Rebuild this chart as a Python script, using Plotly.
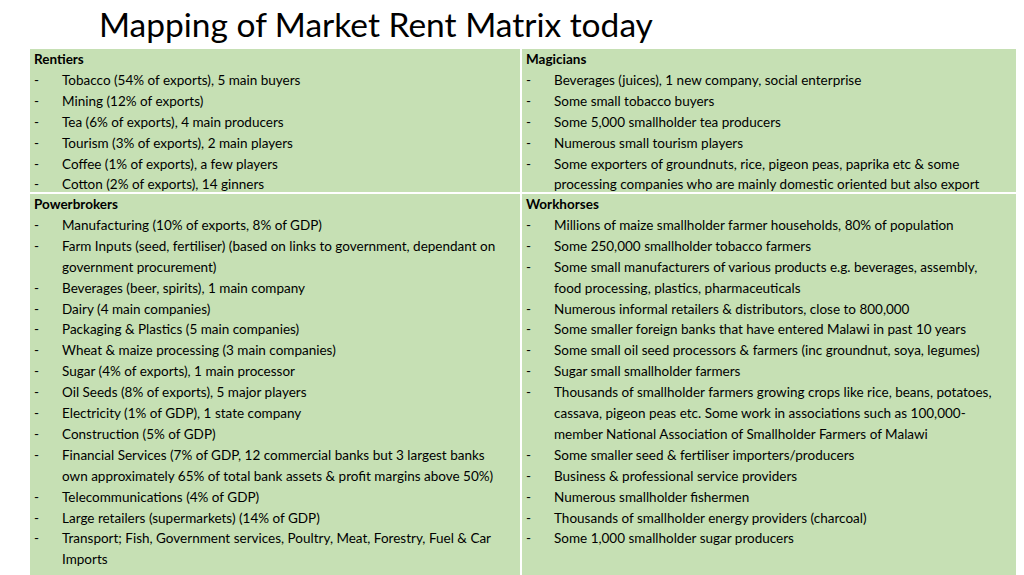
import plotly.graph_objects as go

title = "Mapping of Market Rent Matrix today"

headers = ["Rentiers", "Magicians", "Powerbrokers", "Workhorses"]

rentiers = [
    ["Tobacco (54% of exports), 5 main buyers"],
    ["Mining (12% of exports)"],
    ["Tea (6% of exports), 4 main producers"],
    ["Tourism (3% of exports), 2 main players"],
    ["Coffee (1% of exports), a few players"],
    ["Cotton (2% of exports), 14 ginners"],
]
magicians = [
    ["Beverages (juices), 1 new company, social enterprise"],
    ["Some small tobacco buyers"],
    ["Some 5,000 smallholder tea producers"],
    ["Numerous small tourism players"],
    ["Some exporters of groundnuts, rice, pigeon peas, paprika etc & some",
     "processing companies who are mainly domestic oriented but also export"],
]
powerbrokers = [
    ["Manufacturing (10% of exports, 8% of GDP)"],
    ["Farm Inputs (seed, fertiliser) (based on links to government, dependant on",
     "government procurement)"],
    ["Beverages (beer, spirits), 1 main company"],
    ["Dairy (4 main companies)"],
    ["Packaging & Plastics (5 main companies)"],
    ["Wheat & maize processing (3 main companies)"],
    ["Sugar (4% of exports), 1 main processor"],
    ["Oil Seeds (8% of exports), 5 major players"],
    ["Electricity (1% of GDP), 1 state company"],
    ["Construction (5% of GDP)"],
    ["Financial Services (7% of GDP, 12 commercial banks but 3 largest banks",
     "own approximately 65% of total bank assets & profit margins above 50%)"],
    ["Telecommunications (4% of GDP)"],
    ["Large retailers (supermarkets) (14% of GDP)"],
    ["Transport; Fish, Government services, Poultry, Meat, Forestry, Fuel & Car",
     "Imports"],
]
workhorses = [
    ["Millions of maize smallholder farmer households, 80% of population"],
    ["Some 250,000 smallholder tobacco farmers"],
    ["Some small manufacturers of various products e.g. beverages, assembly,",
     "food processing, plastics, pharmaceuticals"],
    ["Numerous informal retailers & distributors, close to 800,000"],
    ["Some smaller foreign banks that have entered Malawi in past 10 years"],
    ["Some small oil seed processors & farmers (inc groundnut, soya, legumes)"],
    ["Sugar small smallholder farmers"],
    ["Thousands of smallholder farmers growing crops like rice, beans, potatoes,",
     "cassava, pigeon peas etc. Some work in associations such as 100,000-",
     "member National Association of Smallholder Farmers of Malawi"],
    ["Some smaller seed & fertiliser importers/producers"],
    ["Business & professional service providers"],
    ["Numerous smallholder fishermen"],
    ["Thousands of smallholder energy providers (charcoal)"],
    ["Some 1,000 smallholder sugar producers"],
]

cells = [(rentiers, 29, 48), (magicians, 521, 48), (powerbrokers, 29, 193), (workhorses, 521, 193)]
cell_w = [492, 500, 492, 500]
cell_h = [145, 145, 390, 390]
GREEN = "#c6e0b4"
FONT = "Lato"
LH = 20.9

fig = go.Figure()
for i, (items, x0, y0) in enumerate(cells):
    fig.add_shape(type="rect", x0=x0, x1=x0 + cell_w[i], y0=y0, y1=y0 + cell_h[i],
                  fillcolor=GREEN, line=dict(color="white", width=2), layer="below")
    fig.add_annotation(x=x0 + 3, y=y0 + 11, text="<b>" + headers[i] + "</b>",
                       xanchor="left", yanchor="middle", showarrow=False,
                       font=dict(family=FONT, size=13.5, color="black"))
    y = y0 + 11 + LH
    for item in items:
        fig.add_annotation(x=x0 + 3, y=y, text="-", xanchor="left", yanchor="middle",
                           showarrow=False, font=dict(family=FONT, size=13.5, color="black"))
        for line in item:
            fig.add_annotation(x=x0 + 31, y=y, text=line, xanchor="left", yanchor="middle",
                               showarrow=False, font=dict(family=FONT, size=13.5, color="black"))
            y += LH

fig.add_annotation(x=97, y=24, text=title, xanchor="left", yanchor="middle", showarrow=False,
                   font=dict(family=FONT, size=33.5, color="black"))

# the page body has an 8px margin, so shift the ranges to keep pixel positions
fig.update_xaxes(range=[8, 1032], visible=False, fixedrange=True)
fig.update_yaxes(range=[583, 8], visible=False, fixedrange=True)
fig.update_layout(width=1024, height=575, margin=dict(l=0, r=0, t=0, b=0),
                  plot_bgcolor="white", paper_bgcolor="white", showlegend=False)
fig.write_html("out.html")
